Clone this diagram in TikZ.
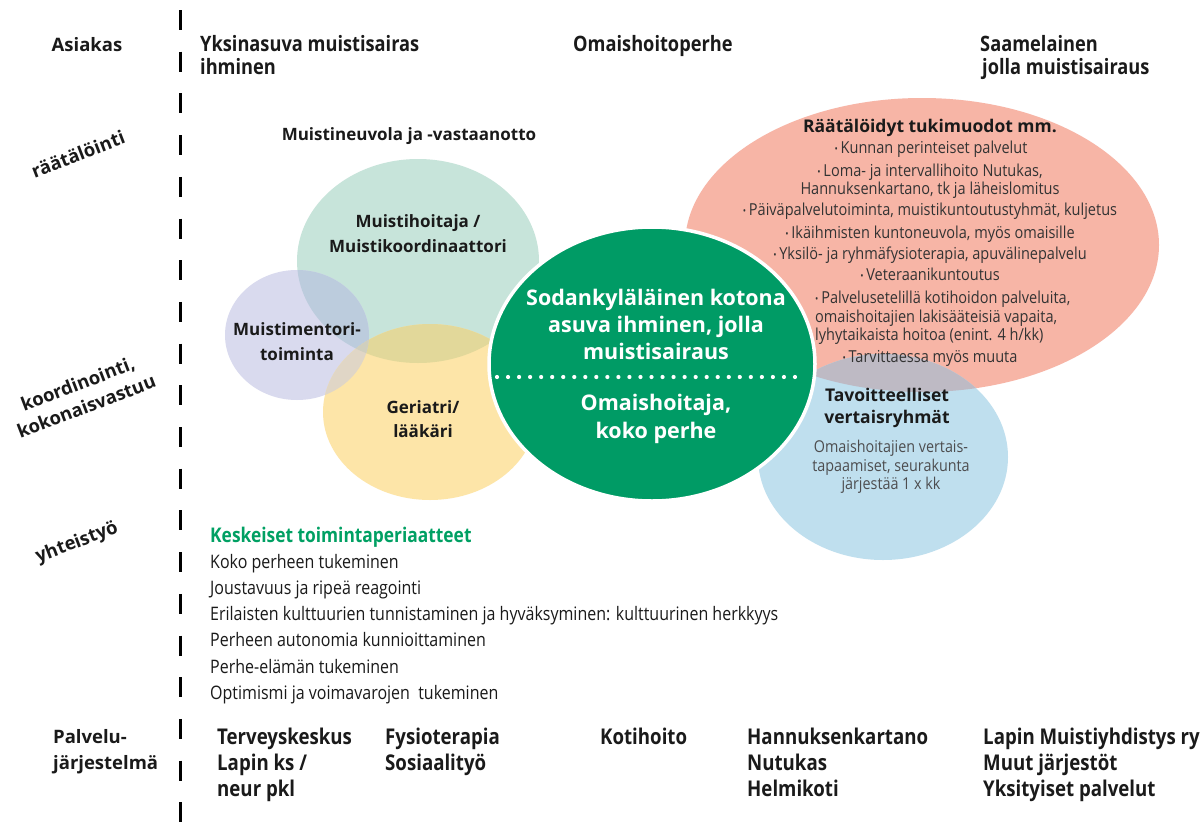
\documentclass[tikz,border=0pt]{standalone}
\usepackage{fontspec}
\setmainfont{Open Sans}
\newfontfamily\cnd[FakeStretch=0.86]{Open Sans}
\newfontfamily\lgt[FakeStretch=0.88]{Open Sans}
\usetikzlibrary{shapes.geometric}
\definecolor{mint}{HTML}{C7E4DA}
\definecolor{lav}{HTML}{D9DAEE}
\definecolor{yel}{HTML}{FDE5A8}
\definecolor{mintlav}{HTML}{BCCCDD}
\definecolor{mintyel}{HTML}{E2D89A}
\definecolor{lavyel}{HTML}{E0D6C6}
\definecolor{triple}{HTML}{D0CFBE}
\definecolor{salmon}{HTML}{F7B5A6}
\definecolor{sky}{HTML}{BFDFEE}
\definecolor{salsky}{HTML}{BEBAC4}
\definecolor{dgreen}{HTML}{009B65}
\definecolor{kgreen}{HTML}{00A063}
\definecolor{txt}{HTML}{1A1A1A}
\definecolor{btxt}{HTML}{333333}
\definecolor{gtxt}{HTML}{4D4D4F}
\newcommand{\bul}{\raisebox{1pt}{\fontsize{10}{10}\selectfont •}\,}
\begin{document}
\begin{tikzpicture}[x=1pt,y=-1pt,
  every node/.style={inner sep=0pt, text=txt},
  side/.style={font=\bfseries\fontsize{18.5}{24}\selectfont, align=center},
  head/.style={font=\cnd\bfseries\fontsize{21.2}{23}\selectfont, align=left, anchor=north west},
  foot/.style={font=\cnd\bfseries\fontsize{21.7}{26}\selectfont, align=left, anchor=north west},
  circ/.style={font=\bfseries\fontsize{17}{25}\selectfont, align=center, anchor=north},
  bub/.style={ellipse, inner sep=0pt, draw=none},
  item/.style={font=\lgt\fontsize{16.5}{17.5}\selectfont, text=btxt, align=center, anchor=base},
  ctr/.style={font=\bfseries\fontsize{21.5}{27}\selectfont, text=white, align=center, anchor=north},
  rule/.style={line width=3pt, dash pattern=on 20pt off 21.7pt}
]
\useasboundingbox (0,0) rectangle (1203,822);
\fill[white] (0,0) rectangle (1203,822);

% vertical dashed divider
\coordinate (vtop) at (180,10);
\coordinate (vbot) at (180,822);
\draw[rule] (vtop) -- (vbot);

% left column labels
\node[side] (asiakas) at (87,45) {Asiakas};
\node[side, rotate=21] (raat) at (78,154) {räätälöinti};
\node[side, rotate=21] (koord) at (82,395) {koordinointi,\\kokonaisvastuu};
\node[side, rotate=21] (yht) at (77,543) {yhteistyö};
\node[side, align=left, anchor=north west, font=\bfseries\fontsize{18.5}{26}\selectfont] (palv) at (53,729) {Palvelu-\\järjestelmä};

% top row
\node[head] (yksin) at (200,35.5) {Yksinasuva muistisairas\\ihminen};
\node[head] (omais) at (573,35.5) {Omaishoitoperhe};
\node[head] (saame) at (980,35.5) {Saamelainen\\\hspace{2pt}jolla muistisairaus};

\node[font=\bfseries\fontsize{17}{20}\selectfont, anchor=base] (neuvola) at (409,140.6) {Muistineuvola ja -vastaanotto};

% left bubbles
\node[bub, fill=mint, minimum width=242pt, minimum height=204pt] (mintb) at (418,261) {};
\node[bub, fill=lav, minimum width=144pt, minimum height=130pt] (lavb) at (297,335) {};
\node[bub, fill=yel, minimum width=214pt, minimum height=176pt] (yelb) at (430,412) {};
\begin{scope}
  \clip (418,261) ellipse [x radius=121, y radius=102];
  \fill[mintlav] (297,335) ellipse [x radius=72, y radius=65];
  \fill[mintyel] (430,412) ellipse [x radius=107, y radius=88];
\end{scope}
\begin{scope}
  \clip (297,335) ellipse [x radius=72, y radius=65];
  \fill[lavyel] (430,412) ellipse [x radius=107, y radius=88];
\end{scope}
\begin{scope}
  \clip (418,261) ellipse [x radius=121, y radius=102];
  \clip (297,335) ellipse [x radius=72, y radius=65];
  \fill[triple] (430,412) ellipse [x radius=107, y radius=88];
\end{scope}

% right bubbles
\node[bub, fill=salmon, minimum width=474pt, minimum height=294pt] (salb) at (922,245) {};
\node[bub, fill=sky, minimum width=250pt, minimum height=206pt] (skyb) at (883,457) {};
\begin{scope}
  \clip (922,245) ellipse [x radius=237, y radius=147];
  \fill[salsky] (883,457) ellipse [x radius=125, y radius=103];
\end{scope}

% central green bubble
\node[bub, fill=dgreen, draw=white, line width=3.5pt, minimum width=326pt, minimum height=274pt] (center) at (652,364) {};
\coordinate (dl) at (497,377);
\coordinate (dr) at (806,377);
\draw[white, line width=4.2pt, line cap=round, dash pattern=on 0pt off 11.036pt] (dl) -- (dr);
\node[ctr] (ctop) at (656,288.8) {Sodankyläläinen kotona\\asuva ihminen, jolla\\muistisairaus};
\node[ctr, font=\bfseries\fontsize{21.5}{28}\selectfont] (cbot) at (656,393.8) {Omaishoitaja,\\koko perhe};

% bubble labels
\node[circ] (mhoit) at (418,214.7) {Muistihoitaja /\\Muistikoordinaattori};
\node[circ] (mment) at (297,322.7) {Muistimentori-\\toiminta};
\node[circ, font=\bfseries\fontsize{17}{24}\selectfont] (geri) at (423,400.7) {Geriatri/\\lääkäri};

% salmon text
\node[font=\bfseries\fontsize{17.5}{20}\selectfont, anchor=base] (stitle) at (930,132.8) {Räätälöidyt tukimuodot mm.};
\node[item] (s1) at (931,153.3) {\bul Kunnan perinteiset palvelut};
\node[item, anchor=north] (s2) at (930,164.1) {\bul Loma- ja intervallihoito Nutukas,\\Hannuksenkartano, tk ja läheislomitus};
\node[item] (s3) at (930,215.3) {\bul Päiväpalvelutoiminta, muistikuntoutustyhmät, kuljetus};
\node[item] (s4) at (930,238.3) {\bul Ikäihmisten kuntoneuvola, myös omaisille};
\node[item] (s5) at (930,259.3) {\bul Yksilö- ja ryhmäfysioterapia, apuvälinepalvelu};
\node[item] (s6) at (930,280.3) {\bul Veteraanikuntoutus};
\node[item, anchor=north west, align=left, font=\lgt\fontsize{16.5}{18.5}\selectfont] (s7) at (815,291.1) {\bul Palvelusetelillä kotihoidon palveluita,\\omaishoitajien lakisääteisiä vapaita,\\lyhytaikaista hoitoa (enint. 4 h/kk)};
\node[item] (s8) at (930,362.3) {\bul Tarvittaessa myös muuta};

% blue text
\node[font=\bfseries\fontsize{17.5}{22}\selectfont, align=center, anchor=north] (btitle) at (887,387.5) {Tavoitteelliset\\vertaisryhmät};
\node[item, anchor=north, text=gtxt, font=\lgt\fontsize{16.3}{18.5}\selectfont] (bbody) at (891,440.1) {Omaishoitajien vertais-\\tapaamiset, seurakunta\\järjestää 1 x kk};

% principles
\node[font=\cnd\bfseries\fontsize{20.2}{24}\selectfont, text=kgreen, anchor=base west] (ktitle) at (210,542) {Keskeiset toimintaperiaatteet};
\node[font=\cnd\fontsize{18.6}{26.2}\selectfont, align=left, anchor=north west] (klist) at (210,554) {Koko perheen tukeminen\\Joustavuus ja ripeä reagointi\\Erilaisten kulttuurien tunnistaminen ja hyväksyminen: kulttuurinen herkkyys\\Perheen autonomia kunnioittaminen\\Perhe-elämän tukeminen\\Optimismi ja voimavarojen\ \ tukeminen};

% bottom row
\node[foot] (terv) at (217,727.5) {Terveyskeskus\\Lapin ks /\\neur pkl};
\node[foot] (fysio) at (385,727.5) {Fysioterapia\\Sosiaalityö};
\node[foot] (koti) at (600,727.5) {Kotihoito};
\node[foot] (hann) at (747,727.5) {Hannuksenkartano\\Nutukas\\Helmikoti};
\node[foot] (lapin) at (983,727.5) {Lapin Muistiyhdistys ry\\Muut järjestöt\\Yksityiset palvelut};
\end{tikzpicture}
\end{document}
